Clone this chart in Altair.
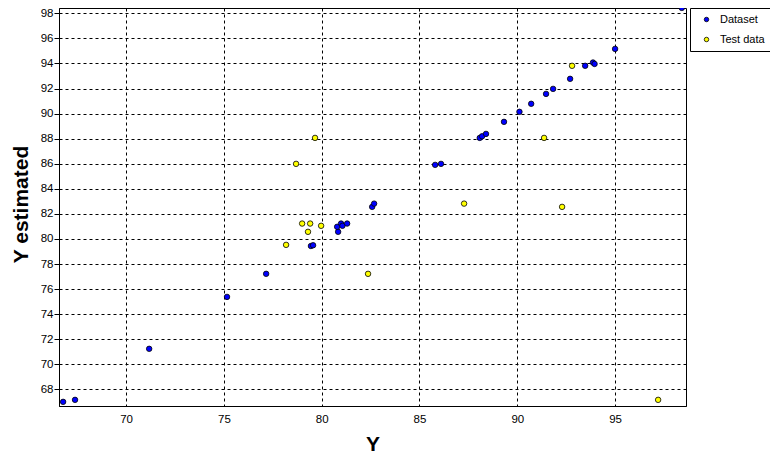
import altair as alt
import pandas as pd

# Dataset (blue)
dataset_x = [66.78, 67.39, 71.18, 75.16, 77.16, 79.45, 79.56, 80.84, 80.79, 80.99, 81.06, 81.30,
             82.58, 82.68, 85.80, 86.10, 88.08, 88.20, 88.40, 89.32, 90.11, 90.71, 91.47, 91.83,
             92.70, 93.47, 93.87, 93.95, 95.00, 98.41]
dataset_y = [67.01, 67.17, 71.24, 75.38, 77.22, 79.44, 79.50, 80.57, 80.97, 81.23, 81.05, 81.23,
             82.56, 82.82, 85.91, 85.99, 88.06, 88.19, 88.38, 89.34, 90.14, 90.78, 91.57, 91.97,
             92.77, 93.81, 94.07, 93.96, 95.16, 98.43]
# Test data (yellow)
test_x = [78.69, 87.28, 79.00, 79.41, 79.97, 79.30, 78.18, 82.37, 79.66, 92.80, 91.37, 92.29, 97.20]
test_y = [85.99, 82.82, 81.23, 81.23, 81.05, 80.57, 79.53, 77.22, 88.06, 93.81, 88.06, 82.56, 67.17]

series = ["Dataset", "Test data"]
colors = ["#0000ff", "#ffff00"]
x_ticks = [70, 75, 80, 85, 90, 95]
y_ticks = [68, 70, 72, 74, 76, 78, 80, 82, 84, 86, 88, 90, 92, 94, 96, 98]

df = pd.concat([
    pd.DataFrame({"Y": dataset_x, "Yest": dataset_y, "series": series[0]}),
    pd.DataFrame({"Y": test_x, "Yest": test_y, "series": series[1]}),
], ignore_index=True)
df["order"] = range(len(df))

FONT = "Liberation Sans"

chart = alt.Chart(df).mark_point(
    filled=True, size=30, stroke="black", strokeWidth=0.8, opacity=1, shape="circle"
).encode(
    x=alt.X("Y:Q", scale=alt.Scale(domain=[66.57, 98.625], nice=False, zero=False),
            axis=alt.Axis(values=x_ticks, title="Y", ticks=False, labelPadding=7,
                          titleY=44, titleBaseline="alphabetic")),
    y=alt.Y("Yest:Q", scale=alt.Scale(domain=[66.68, 98.42], nice=False, zero=False),
            axis=alt.Axis(values=y_ticks, title="Y estimated", ticks=True, tickSize=5,
                          labelPadding=1, titleX=-32, titleY=196, titleAngle=270,
                          titleAlign="center", titleBaseline="alphabetic")),
    color=alt.Color("series:N", scale=alt.Scale(domain=series, range=colors),
                    legend=alt.Legend(title=None, orient="none", legendX=631, legendY=0,
                                      padding=6, strokeColor="black", fillColor="white",
                                      labelFont=FONT, labelFontSize=11, labelColor="black",
                                      symbolSize=20, symbolType="circle", rowPadding=8,
                                      symbolStrokeColor="black", symbolStrokeWidth=0.8,
                                      symbolOffset=5, labelOffset=8, cornerRadius=0)),
    order=alt.Order("order:Q"),
).properties(
    width=627, height=398,
    autosize=alt.AutoSizeParams(type="none"),
    padding={"left": 51, "top": 0, "right": 84, "bottom": 49},
).configure_view(
    stroke="black", strokeWidth=1
).configure_axis(
    grid=True, gridColor="black", gridDash=[3, 3], gridWidth=1, gridOpacity=1,
    domain=True, domainColor="black", domainWidth=1,
    tickColor="black", tickWidth=1,
    labelFont=FONT, labelFontSize=11.5, labelColor="black",
    titleFont=FONT, titleFontSize=21, titleFontWeight="bold", titleColor="black",
)

chart.save("out.html", embed_options={"renderer": "svg", "actions": False})
